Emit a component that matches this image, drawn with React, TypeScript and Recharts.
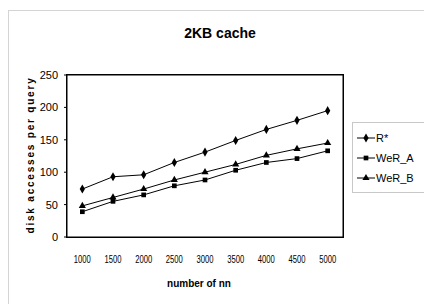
import { Legend, Line, LineChart, ReferenceLine, Symbols, XAxis, YAxis } from "recharts";

const nnCounts = ["1000", "1500", "2000", "2500", "3000", "3500", "4000", "4500", "5000"];
const rStar = [74, 93, 96, 115, 131, 149, 166, 180, 195];
const werA = [39, 55, 65, 79, 88, 103, 115, 121, 133];
const werB = [48, 61, 74, 88, 100, 112, 126, 136, 145];
const yTicks = [0, 50, 100, 150, 200, 250];

const seriesList = [
  { key: "rStar", name: "R*", shape: "diamond", size: 24 },
  { key: "werA", name: "WeR_A", shape: "square", size: 22 },
  { key: "werB", name: "WeR_B", shape: "triangle", size: 22 }
] as const;

const data = nnCounts.map((n, i) => ({
  n,
  rStar: rStar[i],
  werA: werA[i],
  werB: werB[i]
}));

const font = "'Liberation Sans', Arial, sans-serif";

function markerDot(shape: "diamond" | "square" | "triangle", size: number) {
  return (props: any) => (
    <Symbols
      key={`${shape}-${props.index}`}
      cx={props.cx}
      cy={props.cy}
      type={shape}
      size={size}
      fill="#000"
      stroke="none"
    />
  );
}

// narrow tick labels, like the squeezed Arial in the original
function NarrowTick(props: any) {
  const { x, y, payload } = props;
  return (
    <text
      x={x}
      y={y}
      dy="0.71em"
      textAnchor="middle"
      fontFamily={font}
      fontSize={11}
      fill="#000"
      textLength={17}
      lengthAdjust="spacingAndGlyphs"
    >
      {payload.value}
    </text>
  );
}

function LegendBox() {
  return (
    <div
      style={{
        border: "1px solid #c8c8c8",
        padding: "5px 0 4px 4px",
        width: 90,
        fontFamily: font,
        fontSize: 11,
        color: "#000"
      }}
    >
      {seriesList.map((s) => (
        <div key={s.key} style={{ display: "flex", alignItems: "center", height: 20 }}>
          <svg width={18} height={10} style={{ marginRight: 1 }}>
            <line x1={0} y1={5} x2={18} y2={5} stroke="#000" strokeWidth={1} />
            <Symbols cx={9} cy={5} type={s.shape} size={s.size} fill="#000" />
          </svg>
          <span>{s.name}</span>
        </div>
      ))}
    </div>
  );
}

export default function App() {
  return (
    <div style={{ position: "absolute", left: 0, top: 0, width: 424, height: 304, background: "#fff", overflow: "hidden" }}>
      <div
        style={{
          position: "absolute",
          left: 8,
          top: 10,
          width: 440,
          height: 320,
          border: "1px solid #d4d4d4"
        }}
      />
      <div
        style={{
          position: "absolute",
          left: 0,
          width: 440,
          top: 25,
          textAlign: "center",
          fontFamily: font,
          fontWeight: "bold",
          fontSize: 14,
          color: "#000"
        }}
      >
        2KB cache
      </div>
      <LineChart
        width={424}
        height={304}
        data={data}
        margin={{ top: 75, right: 81, bottom: 37, left: 27 }}
      >
        <XAxis
          dataKey="n"
          scale="band"
          interval={0}
          tickLine={false}
          tickMargin={12}
          height={30}
          axisLine={{ stroke: "#000" }}
          tick={<NarrowTick />}
          label={{
            content: () => (
              <text x={199} y={287} textAnchor="middle" fontFamily={font} fontWeight="bold" fontSize={10} fill="#000">
                number of nn
              </text>
            )
          }}
        />
        <YAxis
          domain={[0, 250]}
          ticks={yTicks}
          width={40}
          tickSize={3}
          tickMargin={6}
          axisLine={{ stroke: "#000" }}
          tickLine={{ stroke: "#000" }}
          tick={{ fill: "#000", fontSize: 11, fontFamily: font }}
          label={{
            content: () => (
              <text
                x={34}
                y={155}
                transform="rotate(-90 34 155)"
                textAnchor="middle"
                fontFamily={font}
                fontWeight="bold"
                fontSize={10}
                letterSpacing={1.8}
                fill="#000"
              >
                disk accesses per query
              </text>
            )
          }}
        />
        {/* close the plot frame on top and right */}
        <ReferenceLine y={yTicks[yTicks.length - 1]} stroke="#000" ifOverflow="visible" />
        <ReferenceLine x={nnCounts[nnCounts.length - 1]} position="end" stroke="#000" ifOverflow="visible" />
        <Legend
          layout="horizontal"
          align="center"
          verticalAlign="middle"
          wrapperStyle={{ left: 352, top: 122, width: 100 }}
          content={() => <LegendBox />}
        />
        {seriesList.map((s) => (
          <Line
            key={s.key}
            type="linear"
            dataKey={s.key}
            name={s.name}
            stroke="#000"
            strokeWidth={1}
            dot={markerDot(s.shape, s.size)}
            activeDot={false}
            isAnimationActive={false}
          />
        ))}
      </LineChart>
      {/* plot frame fallback */}
      <div
        style={{
          position: "absolute",
          left: 66,
          top: 74,
          width: 276,
          height: 162,
          border: "1px solid #000",
          pointerEvents: "none"
        }}
      />
    </div>
  );
}
